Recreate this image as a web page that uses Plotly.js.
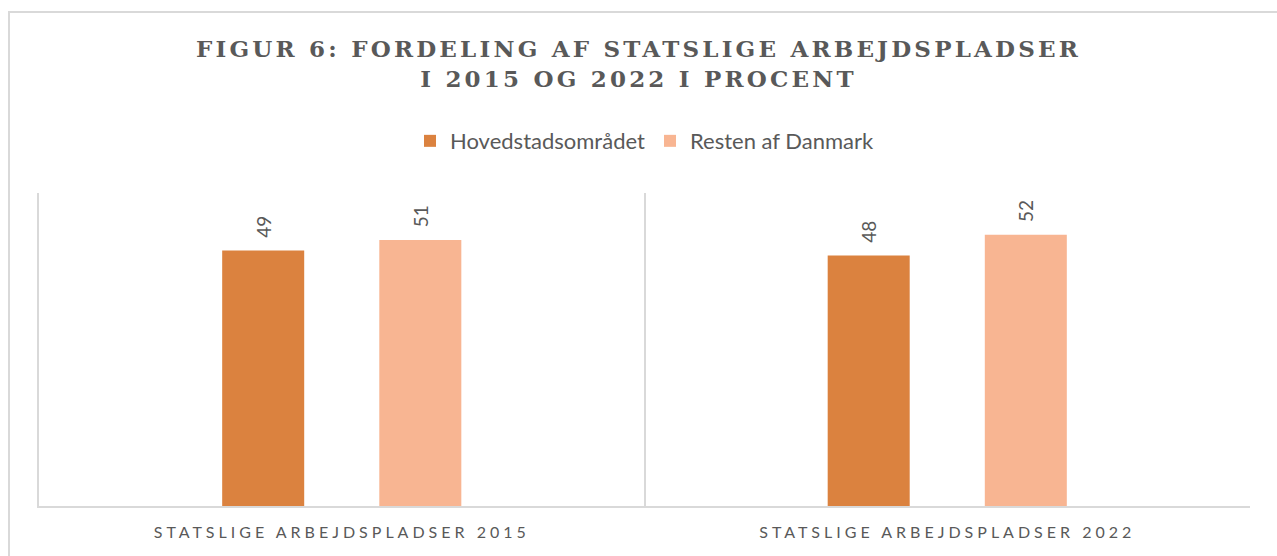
<!DOCTYPE html>
<html>
<head>
<meta charset="utf-8">
<script src="https://cdn.plot.ly/plotly-3.0.1.min.js"></script>
<style>
  html, body { margin: 0; padding: 0; background: #ffffff; }
  #frame { position: absolute; left: 8px; top: 11px; width: 1300px; height: 600px;
           border: 2px solid #d9d9d9; box-sizing: border-box; }
  #chart { position: absolute; left: 0; top: 0; width: 1277px; height: 556px; }
  .gtitle { letter-spacing: 3.2px; }
  .xtick text { letter-spacing: 4px; }
</style>
</head>
<body>
<div id="frame"></div>
<div id="chart"></div>
<script>
const categories = ["STATSLIGE ARBEJDSPLADSER 2015", "STATSLIGE ARBEJDSPLADSER 2022"];
const seriesNames = ["Hovedstadsområdet", "Resten af Danmark"];
const hovedstad = [49, 48];
const restenAfDanmark = [51, 52];
const seriesColors = ["#DB823F", "#F8B592"];

const labelFont = { family: "Lato, 'Open Sans', sans-serif", size: 19, color: "#595959" };

function barTrace(name, values, color) {
  return {
    type: "bar",
    name: name,
    x: categories,
    y: values,
    marker: { color: color },
    text: values.map(String),
    texttemplate: "\u00a0\u00a0%{text}",
    textposition: "outside",
    textangle: -90,
    outsidetextfont: labelFont,
    cliponaxis: false,
    hoverinfo: "x+y+name"
  };
}

const data = [
  barTrace(seriesNames[0], hovedstad, seriesColors[0]),
  barTrace(seriesNames[1], restenAfDanmark, seriesColors[1])
];

const layout = {
  width: 1277,
  height: 556,
  paper_bgcolor: "rgba(0,0,0,0)",
  plot_bgcolor: "rgba(0,0,0,0)",
  margin: { l: 39, r: 27, t: 193, b: 50 },
  title: {
    text: "FIGUR 6: FORDELING AF STATSLIGE ARBEJDSPLADSER<br>I 2015 OG 2022 I PROCENT",
    font: { family: "DejaVu Serif", size: 23, color: "#595959", weight: 700 },
    x: 0.5,
    xanchor: "center",
    xref: "container",
    yref: "container",
    y: 1 - 57 / 556,
    yanchor: "top"
  },
  showlegend: true,
  legend: {
    orientation: "h",
    x: 0.5,
    xanchor: "center",
    y: 1.166,
    yanchor: "middle",
    font: { family: "Lato, 'Open Sans', sans-serif", size: 22, color: "#595959" },
    traceorder: "normal"
  },
  barmode: "group",
  bargap: 0.481,
  bargroupgap: 0.478,
  xaxis: {
    type: "category",
    tickson: "boundaries",
    showgrid: true,
    gridcolor: "#d9d9d9",
    gridwidth: 2,
    showline: true,
    linecolor: "#d9d9d9",
    linewidth: 2,
    ticks: "",
    ticklabelstandoff: 11,
    tickfont: { family: "Lato, 'Open Sans', sans-serif", size: 16, color: "#595959" },
    fixedrange: true
  },
  yaxis: {
    range: [0, 60],
    showgrid: false,
    zeroline: false,
    showticklabels: false,
    ticks: "",
    showline: true,
    linecolor: "#d9d9d9",
    linewidth: 2,
    fixedrange: true
  }
};

Plotly.newPlot("chart", data, layout, { displayModeBar: false, staticPlot: true });
</script>
</body>
</html>
